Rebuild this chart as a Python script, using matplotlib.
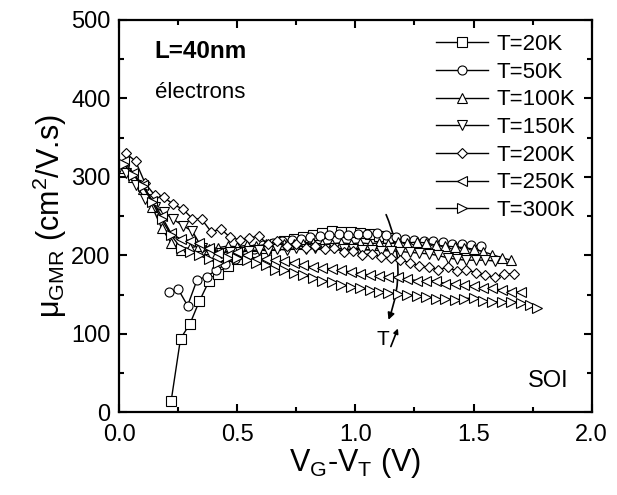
import matplotlib
matplotlib.use("Agg")
import matplotlib.pyplot as plt
from matplotlib.patches import FancyArrowPatch
from matplotlib.ticker import MultipleLocator

plt.rcParams['font.family'] = ['Liberation Sans', 'DejaVu Sans']
plt.rcParams['mathtext.fontset'] = 'custom'
plt.rcParams['mathtext.rm'] = 'Liberation Sans'
plt.rcParams['mathtext.it'] = 'Liberation Sans'

labels = ["T=20K", "T=50K", "T=100K", "T=150K", "T=200K", "T=250K", "T=300K"]
markers = ["s", "o", "^", "v", "D", "<", ">"]

x20 = [0.22, 0.26, 0.30, 0.34, 0.38, 0.42, 0.46, 0.50, 0.54, 0.58, 0.62, 0.66, 0.70, 0.74,
       0.78, 0.82, 0.86, 0.90, 0.94, 0.98, 1.02, 1.06, 1.10, 1.14]
y20 = [14, 94, 113, 142, 167, 177, 186, 195, 200, 205, 210, 214, 218, 221,
       224, 226, 228, 231, 230, 230, 229, 227, 225, 222]

x50 = [0.21, 0.25, 0.29, 0.33, 0.37, 0.41, 0.45, 0.49, 0.53, 0.57, 0.61, 0.65, 0.69, 0.73,
       0.77, 0.81, 0.85, 0.89, 0.93, 0.97, 1.01, 1.05, 1.09, 1.13, 1.17, 1.21, 1.25, 1.29,
       1.33, 1.37, 1.41, 1.45, 1.49, 1.53]
y50 = [153, 157, 136, 169, 173, 181, 189, 196, 203, 208, 213, 216, 218, 220,
       221, 224, 225, 226, 227, 226, 227, 227, 228, 226, 224, 221, 220, 219,
       219, 217, 215, 214, 213, 212]

x100 = [0.02, 0.06, 0.10, 0.14, 0.18, 0.22, 0.26, 0.30, 0.34, 0.38, 0.42, 0.46, 0.50, 0.54,
        0.58, 0.62, 0.66, 0.70, 0.74, 0.78, 0.82, 0.86, 0.90, 0.94, 0.98, 1.02, 1.06, 1.10,
        1.14, 1.18, 1.22, 1.26, 1.30, 1.34, 1.38, 1.42, 1.46, 1.50, 1.54, 1.58, 1.62, 1.66]
y100 = [312, 300, 285, 262, 235, 216, 207, 210, 212, 208, 210, 212, 211, 213,
        212, 214, 213, 215, 214, 215, 216, 214, 215, 216, 215, 216, 215, 216,
        215, 217, 216, 217, 216, 213, 212, 211, 210, 208, 205, 201, 197, 194]

x150 = [0.03, 0.07, 0.11, 0.15, 0.19, 0.23, 0.27, 0.31, 0.35, 0.39, 0.43, 0.47, 0.51, 0.55,
        0.59, 0.63, 0.67, 0.71, 0.75, 0.79, 0.83, 0.87, 0.91, 0.95, 0.99, 1.03, 1.07, 1.11,
        1.15, 1.19, 1.23, 1.27, 1.31, 1.35, 1.39, 1.43, 1.47, 1.51, 1.55, 1.59]
y150 = [305, 290, 272, 262, 255, 246, 238, 231, 210, 201, 203, 205, 204, 206,
        207, 206, 208, 207, 209, 208, 209, 208, 209, 208, 208, 207, 207, 206,
        206, 205, 204, 203, 202, 200, 197, 195, 194, 194, 194, 193]

x200 = [0.03, 0.07, 0.11, 0.15, 0.19, 0.23, 0.27, 0.31, 0.35, 0.39, 0.43, 0.47, 0.51, 0.55,
        0.59, 0.63, 0.67, 0.71, 0.75, 0.79, 0.83, 0.87, 0.91, 0.95, 0.99, 1.03, 1.07, 1.11,
        1.15, 1.19, 1.23, 1.27, 1.31, 1.35, 1.39, 1.43, 1.47, 1.51, 1.55, 1.59, 1.63, 1.67]
y200 = [330, 320, 292, 277, 274, 265, 259, 247, 246, 230, 234, 223, 220, 222,
        225, 214, 219, 212, 214, 210, 212, 208, 209, 205, 206, 201, 202, 198,
        197, 194, 191, 187, 185, 182, 185, 180, 182, 178, 175, 172, 177, 176]

x250 = [0.02, 0.06, 0.10, 0.14, 0.18, 0.22, 0.26, 0.30, 0.34, 0.38, 0.42, 0.46, 0.50, 0.54,
        0.58, 0.62, 0.66, 0.70, 0.74, 0.78, 0.82, 0.86, 0.90, 0.94, 0.98, 1.02, 1.06, 1.10,
        1.14, 1.18, 1.22, 1.26, 1.30, 1.34, 1.38, 1.42, 1.46, 1.50, 1.54, 1.58, 1.62, 1.66, 1.70]
y250 = [320, 305, 290, 270, 250, 228, 221, 219, 216, 210, 203, 200, 205, 200,
        196, 195, 194, 193, 190, 188, 185, 184, 183, 181, 179, 177, 175, 174,
        173, 172, 170, 168, 167, 168, 164, 164, 162, 161, 158, 158, 156, 154, 153]

x300 = [0.02, 0.06, 0.10, 0.14, 0.18, 0.22, 0.26, 0.30, 0.34, 0.38, 0.42, 0.46, 0.50, 0.54,
        0.58, 0.62, 0.66, 0.70, 0.74, 0.78, 0.82, 0.86, 0.90, 0.94, 0.98, 1.02, 1.06, 1.10,
        1.14, 1.18, 1.22, 1.26, 1.30, 1.34, 1.38, 1.42, 1.46, 1.50, 1.54, 1.58, 1.62, 1.66,
        1.70, 1.74, 1.77]
y300 = [316, 303, 288, 268, 246, 226, 210, 205, 200, 195, 190, 197, 197, 194,
        191, 188, 182, 181, 178, 175, 171, 168, 166, 163, 160, 158, 156, 154,
        152, 151, 150, 148, 147, 145, 145, 143, 145, 146, 142, 141, 141, 141,
        140, 137, 133]

xs = [x20, x50, x100, x150, x200, x250, x300]
ys = [y20, y50, y100, y150, y200, y250, y300]

fig = plt.figure(figsize=(6.17, 4.95), dpi=100)
ax = fig.add_axes([0.193, 0.1667, 0.766, 0.793])

for x, y, m, lab in zip(xs, ys, markers, labels):
    ms = 6.5 if m in ("s", "o") else (5.5 if m == "D" else 7.5)
    ax.plot(x, y, color='black', lw=1.0, marker=m, ms=ms, mfc='white',
            mec='black', mew=0.8, label=lab)

ax.set_xlim(0, 2.0)
ax.set_ylim(0, 500)
ax.xaxis.set_major_locator(MultipleLocator(0.5))
ax.xaxis.set_minor_locator(MultipleLocator(0.25))
ax.yaxis.set_major_locator(MultipleLocator(100))
ax.yaxis.set_minor_locator(MultipleLocator(50))
ax.tick_params(which='both', direction='in', top=True, right=True, width=1.5)
ax.tick_params(which='major', length=6, labelsize=17)
ax.tick_params(axis='x', which='major', pad=8)
ax.tick_params(axis='y', which='major', pad=6)
ax.tick_params(which='minor', length=3.5)
for s in ax.spines.values():
    s.set_linewidth(1.6)

ax.set_xlabel(r'V$_\mathregular{G}$-V$_\mathregular{T}$ (V)', fontsize=22, labelpad=0)
ax.set_ylabel(r'$\mathregular{\mu_{GMR}}$ (cm$^\mathregular{2}$/V.s)', fontsize=22, labelpad=2)

leg = ax.legend(loc='upper right', bbox_to_anchor=(0.99, 0.995), frameon=False,
                fontsize=16, handlelength=2.35, handletextpad=0.35,
                labelspacing=0.3, borderaxespad=0.15)

ax.text(0.15, 460, 'L=40nm', fontsize=17.5, fontweight='bold', va='center', ha='left')
ax.text(0.15, 408, 'électrons', fontsize=16, va='center', ha='left')
ax.text(1.90, 40, 'SOI', fontsize=17, va='center', ha='right')

arr = FancyArrowPatch((1.13, 252), (1.14, 118), connectionstyle='arc3,rad=-0.2',
                      arrowstyle='-|>', mutation_scale=10, color='black', lw=1.2,
                      shrinkA=0, shrinkB=0)
ax.add_patch(arr)
ax.text(1.09, 93, 'T', fontsize=15, va='center', ha='left')
ax.annotate('', xy=(1.18, 107), xytext=(1.15, 84),
            arrowprops=dict(arrowstyle='-|>', color='black', lw=1.2, mutation_scale=7,
                            shrinkA=0, shrinkB=0))

fig.savefig('out.png', dpi=100)
